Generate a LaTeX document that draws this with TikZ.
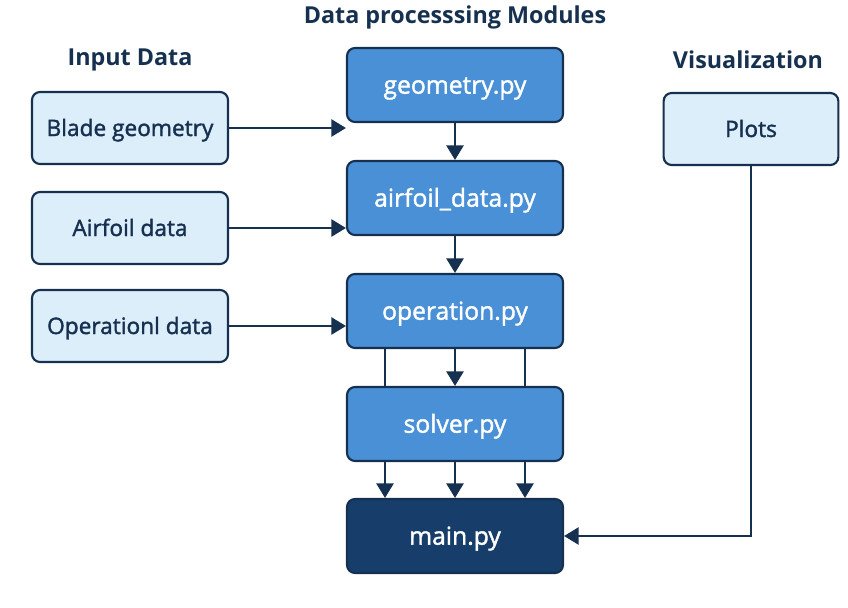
\documentclass[tikz,border=0pt]{standalone}
\usepackage{fontspec}
\setmainfont{Open Sans}
\newfontfamily\boxfont{Open Sans}[FakeBold=1.6]
\usepackage{xcolor}
\usetikzlibrary{arrows.meta}

\definecolor{navy}{HTML}{16304F}
\definecolor{paleblue}{HTML}{DDEEFB}
\definecolor{midblue}{HTML}{4A90D6}
\definecolor{deepblue}{HTML}{173E6A}

\tikzset{
  inbox/.style={draw=navy, line width=1.6pt, fill=paleblue, rounded corners=6pt,
    minimum width=147pt, minimum height=54pt, text height=12pt, text depth=0pt,
    text=navy, font=\boxfont\fontsize{17}{20}\selectfont},
  modbox/.style={draw=navy, line width=1.6pt, fill=midblue, rounded corners=6pt,
    minimum width=162pt, minimum height=55.5pt, text height=13pt, text depth=0pt,
    text=white, font=\boxfont\fontsize{18.5}{22}\selectfont},
  mainbox/.style={modbox, fill=deepblue},
  heading/.style={text=navy, font=\fontsize{17.5}{21}\selectfont\bfseries},
  arr/.style={draw=navy, line width=1.5pt, -{Triangle[width=13pt,length=11pt]}},
  link/.style={draw=navy, line width=1.5pt}
}

\begin{document}
\begin{tikzpicture}[x=0.75pt,y=-0.75pt]
	\useasboundingbox (0,0) rectangle (848,607);

	% headings
	\node[heading] (tmod) at (455,17) {Data processsing Modules};
	\node[heading] (tin) at (130,60) {Input Data};
	\node[heading] (tvis) at (748,60) {Visualization};

	% input data
	\node[inbox] (blade) at (130,128) {Blade geometry};
	\node[inbox] (airfoil) at (130,228) {Airfoil data};
	\node[inbox] (opdata) at (130,326) {Operationl data};

	% modules
	\node[modbox] (geom) at (455,85) {geometry.py};
	\node[modbox] (afdata) at (455,198) {airfoil\_data.py};
	\node[modbox] (operation) at (455,311) {operation.py};
	\node[modbox] (solver) at (455,424) {solver.py};
	\node[mainbox] (mainpy) at (455,536) {main.py};

	% visualization
	\node[inbox, minimum width=131pt] (plots) at (751,129) {Plots};

	% inputs to modules
	\draw[arr] (blade.east) -- (blade.east -| geom.west);
	\draw[arr] (airfoil.east) -- (airfoil.east -| afdata.west);
	\draw[arr] (opdata.east) -- (opdata.east -| operation.west);

	% module chain
	\draw[arr] (geom) -- (afdata);
	\draw[arr] (afdata) -- (operation);
	\draw[link] ([xshift=-52.5pt]operation.south) -- ([xshift=-52.5pt]solver.north);
	\draw[arr] (operation) -- (solver);
	\draw[link] ([xshift=52.5pt]operation.south) -- ([xshift=52.5pt]solver.north);

	\draw[arr] ([xshift=-52.5pt]solver.south) -- ([xshift=-52.5pt]mainpy.north);
	\draw[arr] (solver) -- (mainpy);
	\draw[arr] ([xshift=52.5pt]solver.south) -- ([xshift=52.5pt]mainpy.north);

	% plots to main
	\draw[arr] (plots.south) |- (mainpy.east);
\end{tikzpicture}
\end{document}
